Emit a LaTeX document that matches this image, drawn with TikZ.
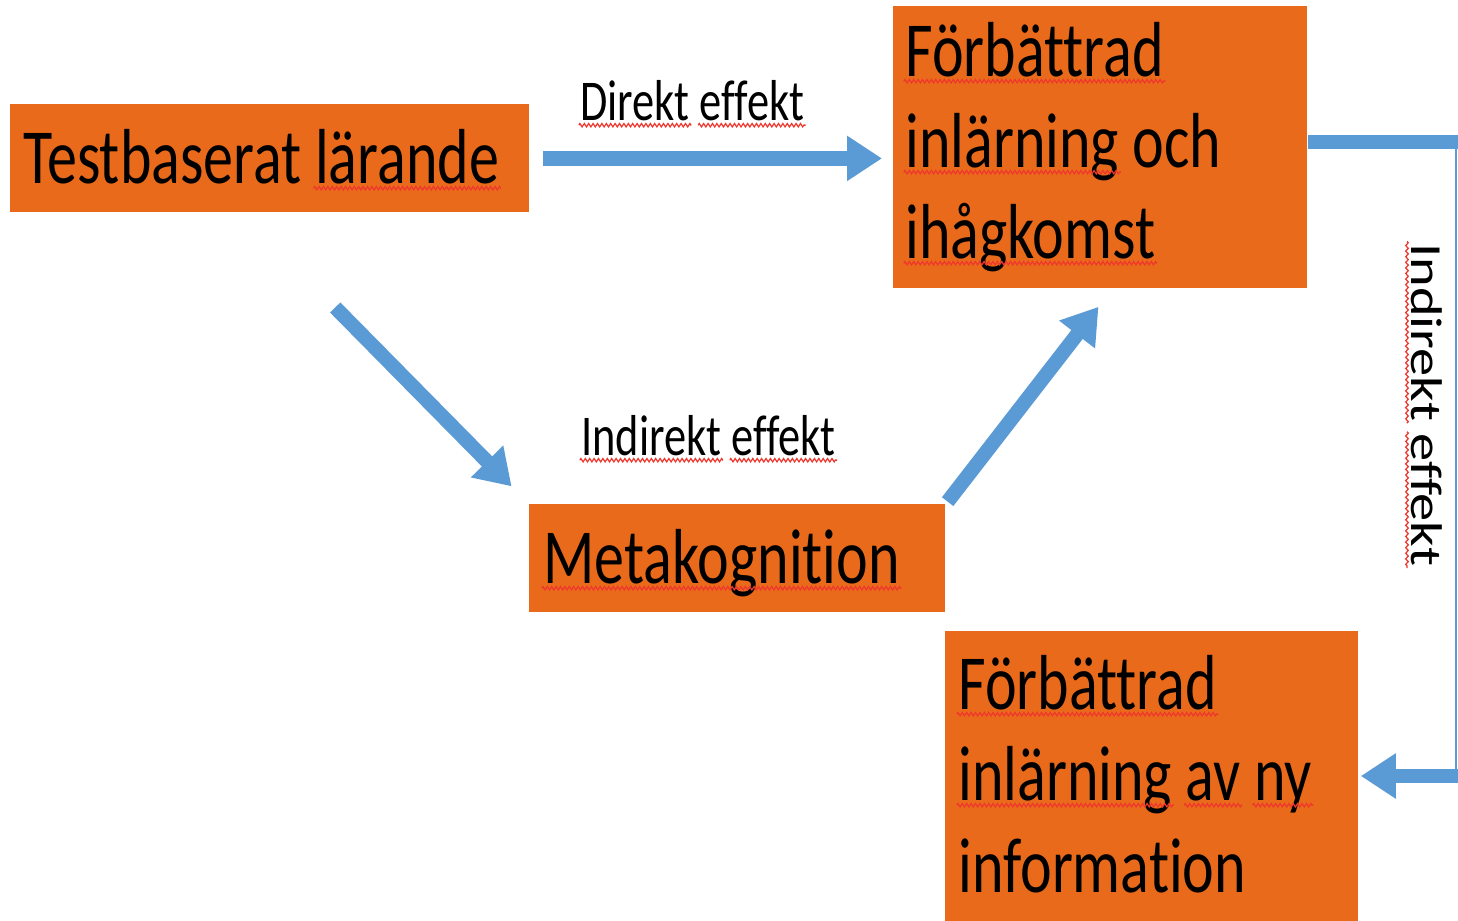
\documentclass[tikz,border=0pt]{standalone}
\usepackage{graphicx}
\usepackage{fontspec}
\setmainfont[Ligatures=NoCommon]{Carlito}
\usetikzlibrary{arrows.meta,calc,decorations.pathmorphing}
\definecolor{boxorange}{RGB}{232,106,26}
\definecolor{arrowblue}{RGB}{91,155,213}
\definecolor{squigred}{RGB}{240,55,45}
\tikzset{
  squig/.style={draw=squigred, line width=0.55pt, decorate,
    decoration={zigzag, segment length=2.2pt, amplitude=0.65pt}},
}
\newcommand\vstretch[1]{\scalebox{1}[1.3]{#1}}
\newcommand\hstretch[1]{\scalebox{1.27}[1]{#1}}
\newcommand\spellsq[1]{\tikz[baseline=(sqw.base)]{\node[inner sep=0pt,outer sep=0pt,anchor=base](sqw){#1};\draw[squig,overlay]([yshift=-2pt,xshift=-0.8pt]sqw.base west)--([yshift=-2pt,xshift=0.8pt]sqw.base east);}}
\begin{document}
\begin{tikzpicture}[x=0.5pt,y=-0.5pt,
  box/.style={fill=boxorange, draw=none, inner sep=0pt, anchor=north west},
  bigtxt/.style={font=\fontsize{30}{36}\selectfont, inner sep=0pt, anchor=base west},
  lbltxt/.style={font=\fontsize{22.2}{26}\selectfont, inner sep=0pt, anchor=base west},
  bluearrow/.style={draw=arrowblue, line width=7.2pt, -{Triangle[length=17.5pt,width=21.5pt]}},
  blueshaft/.style={draw=arrowblue, line width=7pt},
  bluethin/.style={draw=arrowblue, line width=1pt}]
\useasboundingbox (0,0) rectangle (1458,921);
\fill[white] (0,0) rectangle (1458,921);

% boxes
\node[box, minimum width=259.5pt, minimum height=54pt] (b1) at (10,104) {};
\node[box, minimum width=207pt, minimum height=141pt] (b2) at (893,6) {};
\node[box, minimum width=208pt, minimum height=54pt] (b3) at (529,504) {};
\node[box, minimum width=206.5pt, minimum height=145pt] (b4) at (945,631) {};

% box texts
\node[bigtxt] (t1) at (23,183) {\vstretch{Testbaserat \spellsq{lärande}}};
\node[bigtxt] (t2a) at (905,76) {\vstretch{\spellsq{Förbättrad}}};
\node[bigtxt] (t2b) at (905,167) {\vstretch{\spellsq{inlärning} och}};
\node[bigtxt] (t2c) at (905,258) {\vstretch{\spellsq{ihågkomst}}};
\node[bigtxt] (t3) at (543,583) {\vstretch{\spellsq{Metakognition}}};
\node[bigtxt] (t4a) at (958,709) {\vstretch{\spellsq{Förbättrad}}};
\node[bigtxt] (t4b) at (958,800) {\vstretch{\spellsq{inlärning} \spellsq{av} \spellsq{ny}}};
\node[bigtxt] (t4c) at (958,892) {\vstretch{information}};

% labels
\node[lbltxt] (l1) at (580,120) {\vstretch{\spellsq{Direkt} \spellsq{effekt}}};
\node[lbltxt] (l2) at (581,455) {\vstretch{\spellsq{Indirekt} \spellsq{effekt}}};
\node[lbltxt, rotate=-90] (l3) at (1411,243) {\hstretch{\spellsq{Indirekt} \spellsq{effekt}}};

% connectors
\draw[bluearrow, shorten <=6.5pt, shorten >=5.5pt] (b1.east) -- (b1.east -| b2.west);

\coordinate (d1s) at ($(b1.south west)!0.446!(b1.south east)$);
\draw[bluearrow, shorten <=66.5pt, shorten >=12.4pt] (d1s) -- (b3.north west);

\coordinate (d2e) at ($(b2.south west)!0.529!(b2.south east)$);
\draw[bluearrow, shorten <=1.5pt, shorten >=11.4pt] (b3.north east) -- (d2e);

\coordinate (rt) at (1456,142);
\coordinate (rb) at (1456,776);
\draw[blueshaft] (rt -| b2.east) -- ([xshift=1pt]rt);
\draw[bluethin] (rt) -- (rb);
\draw[bluearrow, shorten >=1pt] ([xshift=1pt]rb) -- (rb -| b4.east);
\end{tikzpicture}
\end{document}
